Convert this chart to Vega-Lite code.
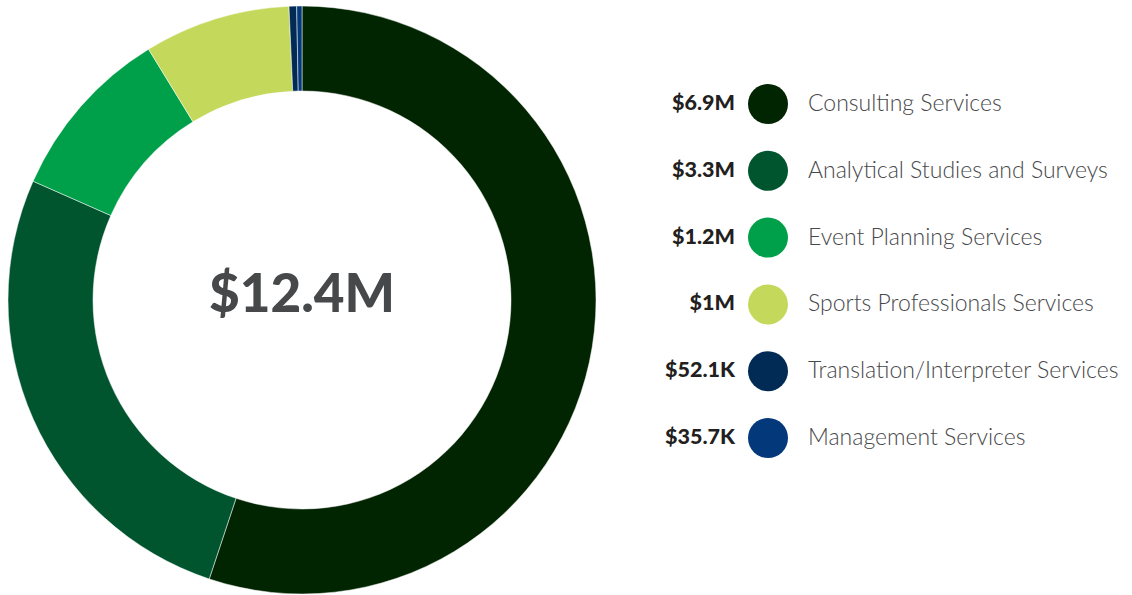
{
  "$schema": "https://vega.github.io/schema/vega-lite/v6.json",
  "padding": 0,
  "spacing": 0,
  "background": "white",
  "config": {"view": {"stroke": null}, "font": "Lato"},
  "data": {
    "values": [
      {"service": "Consulting Services", "value": 6860000, "label": "$6.9M"},
      {"service": "Analytical Studies and Surveys", "value": 3300000, "label": "$3.3M"},
      {"service": "Event Planning Services", "value": 1200000, "label": "$1.2M"},
      {"service": "Sports Professionals Services", "value": 1000000, "label": "$1M"},
      {"service": "Translation/Interpreter Services", "value": 52100, "label": "$52.1K"},
      {"service": "Management Services", "value": 35700, "label": "$35.7K"}
    ]
  },
  "hconcat": [
    {
      "width": 604,
      "height": 600,
      "layer": [
        {
          "mark": {"type": "arc", "radius": 294, "radius2": 209, "stroke": "white", "strokeWidth": 0.5},
          "encoding": {
            "theta": {"field": "value", "type": "quantitative", "stack": true},
            "order": {"field": "value", "sort": "descending"},
            "color": {
              "field": "service",
              "type": "nominal",
              "legend": null,
              "scale": {
                "domain": ["Consulting Services", "Analytical Studies and Surveys", "Event Planning Services", "Sports Professionals Services", "Translation/Interpreter Services", "Management Services"],
                "range": ["#012401", "#00552e", "#00a04a", "#c4d95c", "#012a55", "#03387a"]
              }
            }
          }
        },
        {
          "mark": {"type": "text", "font": "Lato", "fontWeight": 900, "fontSize": 53, "color": "#47484a", "align": "center", "baseline": "middle", "dy": -4},
          "encoding": {
            "text": {"aggregate": "sum", "field": "value", "type": "quantitative", "format": "$.3s"}
          }
        }
      ]
    },
    {
      "width": 328,
      "height": 600,
      "layer": [
        {
          "mark": {"type": "point", "filled": true, "size": 1600, "opacity": 1},
          "encoding": {
            "y": {"field": "service", "type": "nominal", "sort": null, "axis": null, "scale": {"type": "point", "padding": 0, "range": [104, 438]}},
            "color": {
              "field": "service",
              "type": "nominal",
              "legend": null,
              "scale": {
                "domain": ["Consulting Services", "Analytical Studies and Surveys", "Event Planning Services", "Sports Professionals Services", "Translation/Interpreter Services", "Management Services"],
                "range": ["#012401", "#00552e", "#00a04a", "#c4d95c", "#012a55", "#03387a"]
              }
            }
          }
        },
        {
          "mark": {"type": "text", "font": "Lato", "fontWeight": 900, "fontSize": 21.5, "color": "#231f20", "align": "right", "baseline": "middle", "dx": -33},
          "encoding": {
            "y": {"field": "service", "type": "nominal", "sort": null, "axis": null, "scale": {"type": "point", "padding": 0, "range": [104, 438]}},
            "text": {"field": "label", "type": "nominal"}
          }
        },
        {
          "mark": {"type": "text", "font": "Lato", "fontWeight": 300, "fontSize": 23, "color": "#47484a", "align": "left", "baseline": "middle", "dx": 40},
          "encoding": {
            "y": {"field": "service", "type": "nominal", "sort": null, "axis": null, "scale": {"type": "point", "padding": 0, "range": [104, 438]}},
            "text": {"field": "service", "type": "nominal"}
          }
        }
      ]
    }
  ]
}
